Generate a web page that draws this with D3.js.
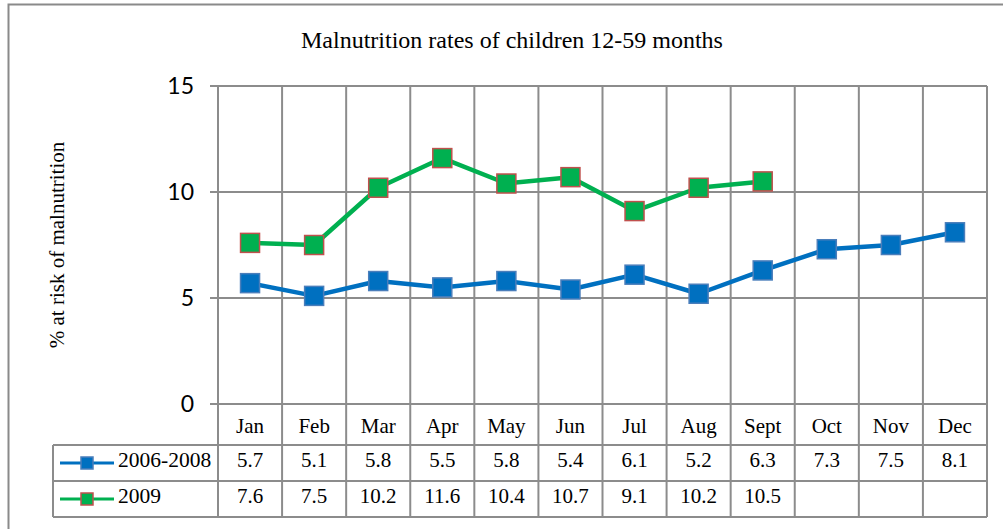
<!DOCTYPE html>
<html>
<head>
<meta charset="utf-8">
<script src="https://cdn.jsdelivr.net/npm/d3@7"></script>
<style>
  body { margin: 0; background: #fff; }
  svg { display: block; }
</style>
</head>
<body>
<svg id="chart" width="1003" height="529"></svg>
<script>
// chart data
var months = ["Jan", "Feb", "Mar", "Apr", "May", "Jun", "Jul", "Aug", "Sept", "Oct", "Nov", "Dec"];
var base = [5.7, 5.1, 5.8, 5.5, 5.8, 5.4, 6.1, 5.2, 6.3, 7.3, 7.5, 8.1];
var y2009 = [7.6, 7.5, 10.2, 11.6, 10.4, 10.7, 9.1, 10.2, 10.5, null, null, null];
var yTicks = [0, 5, 10, 15];

var series = [
  { name: "2006-2008", values: base, line: "#0070C0", fill: "#0070C0", edge: "#4A7EBB" },
  { name: "2009", values: y2009, line: "#00B050", fill: "#00B050", edge: "#C0504D" }
];

var svg = d3.select("#chart");
var grid = "#8c8c8c";
var serif = "'Liberation Serif', 'Times New Roman', serif";

// outer frame
svg.append("rect")
  .attr("x", 8.5).attr("y", 4.5)
  .attr("width", 1010).attr("height", 540)
  .attr("fill", "#fff")
  .attr("stroke", "#8a8a8a")
  .attr("stroke-width", 2);

var x = d3.scaleBand().domain(months).range([218, 987]);
var y = d3.scaleLinear().domain([0, 15]).range([404, 86]);

var rowTop = [404, 445, 481, 517]; // table row edges
var legLeft = 53;

// title
svg.append("text")
  .attr("x", 512).attr("y", 48)
  .attr("text-anchor", "middle")
  .attr("font-family", serif)
  .attr("font-size", 24)
  .text("Malnutrition rates of children 12-59 months");

// y axis title
svg.append("text")
  .attr("transform", "translate(64,245) rotate(-90)")
  .attr("text-anchor", "middle")
  .attr("font-family", serif)
  .attr("font-size", 21)
  .text("% at risk of malnutrition");

// horizontal grid + ticks
var g = svg.append("g");
g.selectAll(".hgrid").data(yTicks).enter().append("line")
  .attr("x1", 210).attr("x2", 987)
  .attr("y1", function(d) { return y(d); })
  .attr("y2", function(d) { return y(d); })
  .attr("stroke", grid).attr("stroke-width", 2);

g.selectAll(".tick").data(yTicks).enter().append("text")
  .attr("x", 194)
  .attr("y", function(d) { return y(d) + 8; })
  .attr("text-anchor", "end")
  .attr("font-family", "Lato, 'Open Sans', sans-serif")
  .attr("font-size", 23)
  .attr("fill", "#000")
  .text(function(d) { return d; });

// vertical grid through plot and table
var edges = months.map(function(m) { return x(m); }).concat([x.range()[1]]);
g.selectAll(".vgrid").data(edges).enter().append("line")
  .attr("x1", function(d) { return d; })
  .attr("x2", function(d) { return d; })
  .attr("y1", y(15))
  .attr("y2", rowTop[3])
  .attr("stroke", grid).attr("stroke-width", 2);

// table horizontal lines
g.selectAll(".trow").data(rowTop.slice(1)).enter().append("line")
  .attr("x1", legLeft).attr("x2", 987)
  .attr("y1", function(d) { return d; })
  .attr("y2", function(d) { return d; })
  .attr("stroke", grid).attr("stroke-width", 2);

g.append("line")
  .attr("x1", legLeft).attr("x2", legLeft)
  .attr("y1", rowTop[1]).attr("y2", rowTop[3])
  .attr("stroke", grid).attr("stroke-width", 2);

// category labels
svg.selectAll(".cat").data(months).enter().append("text")
  .attr("x", function(d) { return x(d) + x.bandwidth() / 2; })
  .attr("y", 433)
  .attr("text-anchor", "middle")
  .attr("font-family", serif)
  .attr("font-size", 21)
  .text(function(d) { return d; });

// lines and markers
var line = d3.line()
  .defined(function(d) { return d != null; })
  .x(function(d, i) { return x(months[i]) + x.bandwidth() / 2; })
  .y(function(d) { return y(d); });

series.forEach(function(s, k) {
  svg.append("path")
    .datum(s.values)
    .attr("fill", "none")
    .attr("stroke", s.line)
    .attr("stroke-width", 4.5)
    .attr("stroke-linejoin", "round")
    .attr("d", line);

  var pts = s.values.map(function(v, i) { return { v: v, m: months[i] }; })
    .filter(function(d) { return d.v != null; });

  svg.selectAll(".mk" + k).data(pts).enter().append("rect")
    .attr("x", function(d) { return x(d.m) + x.bandwidth() / 2 - 9.5; })
    .attr("y", function(d) { return y(d.v) - 9.5; })
    .attr("width", 19).attr("height", 19)
    .attr("fill", s.fill)
    .attr("stroke", s.edge)
    .attr("stroke-width", 1.5);

  // table values
  var rowMid = (rowTop[k + 1] + rowTop[k + 2]) / 2;
  svg.selectAll(".val" + k).data(pts).enter().append("text")
    .attr("x", function(d) { return x(d.m) + x.bandwidth() / 2; })
    .attr("y", rowMid + 4)
    .attr("text-anchor", "middle")
    .attr("font-family", serif)
    .attr("font-size", 21)
    .text(function(d) { return d.v; });

  // legend key
  svg.append("line")
    .attr("x1", 60).attr("x2", 114)
    .attr("y1", rowMid).attr("y2", rowMid)
    .attr("stroke", s.line).attr("stroke-width", 3);
  svg.append("rect")
    .attr("x", 81).attr("y", rowMid - 6)
    .attr("width", 12).attr("height", 12)
    .attr("fill", s.fill)
    .attr("stroke", s.edge)
    .attr("stroke-width", 1.5);
  svg.append("text")
    .attr("x", 118).attr("y", rowMid + 4)
    .attr("font-family", serif)
    .attr("font-size", 21.5)
    .text(s.name);
});
</script>
</body>
</html>
